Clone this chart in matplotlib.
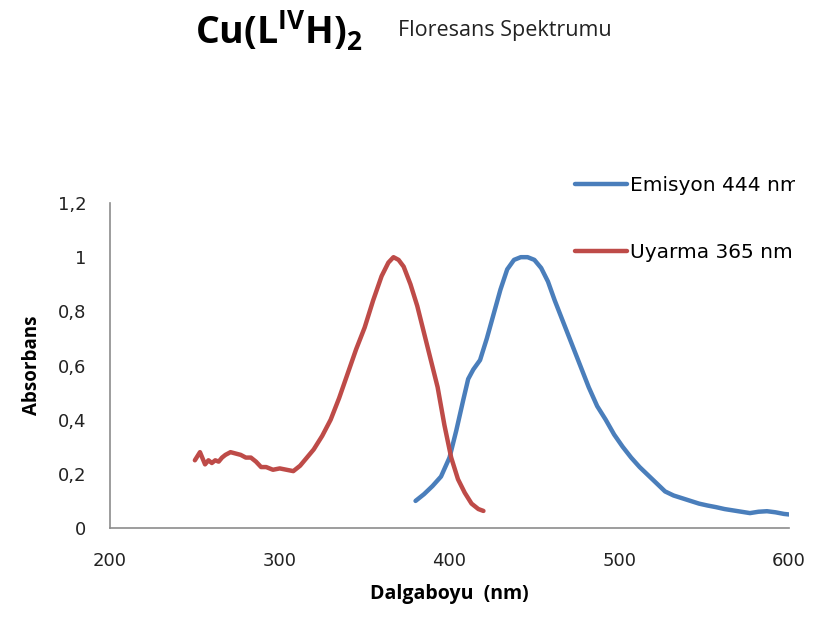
import matplotlib
matplotlib.use("Agg")
import matplotlib.pyplot as plt
from matplotlib.ticker import FuncFormatter
from matplotlib.transforms import Bbox

# Uyarma (excitation) spectrum
uyarma_x = [250, 251, 253, 255, 256, 258, 260, 262, 264, 266, 268, 271, 274, 277, 280,
            283, 286, 289, 292, 296, 300, 304, 308, 312, 316, 320, 325, 330, 335, 340,
            345, 350, 355, 360, 364, 367, 370, 373, 377, 381, 385, 389, 393, 397, 401,
            405, 409, 413, 417, 420]
uyarma_y = [0.25, 0.26, 0.28, 0.25, 0.235, 0.25, 0.24, 0.25, 0.245, 0.26, 0.27, 0.28, 0.275, 0.27, 0.26,
            0.26, 0.245, 0.225, 0.225, 0.215, 0.22, 0.215, 0.21, 0.23, 0.26, 0.29, 0.34, 0.40, 0.48, 0.57,
            0.66, 0.74, 0.84, 0.93, 0.98, 1.0, 0.99, 0.965, 0.90, 0.82, 0.72, 0.62, 0.52, 0.38, 0.26,
            0.18, 0.13, 0.09, 0.07, 0.063]

# Emisyon (emission) spectrum
emisyon_x = [380, 385, 390, 395, 400, 404, 408, 411, 414, 418, 422, 426, 430, 434, 438,
             442, 446, 450, 454, 458, 462, 467, 472, 477, 482, 487, 492, 497, 502, 507,
             512, 517, 522, 527, 532, 537, 542, 547, 552, 557, 562, 567, 572, 577, 582,
             587, 592, 597, 600]
emisyon_y = [0.10, 0.125, 0.155, 0.19, 0.26, 0.36, 0.47, 0.55, 0.585, 0.62, 0.70, 0.79, 0.88, 0.955, 0.99,
             1.0, 1.0, 0.99, 0.96, 0.91, 0.84, 0.76, 0.68, 0.60, 0.52, 0.45, 0.40, 0.345, 0.30, 0.26,
             0.225, 0.195, 0.165, 0.135, 0.12, 0.11, 0.10, 0.09, 0.083, 0.077, 0.07, 0.065, 0.06, 0.055, 0.06,
             0.062, 0.058, 0.052, 0.05]

x_ticks = [200, 300, 400, 500, 600]
y_ticks = [0, 0.2, 0.4, 0.6, 0.8, 1.0, 1.2]

plt.rcParams['mathtext.fontset'] = 'custom'
plt.rcParams['mathtext.rm'] = 'Open Sans'
plt.rcParams['mathtext.bf'] = 'Open Sans:bold'

fig = plt.figure(figsize=(8.27, 6.17), dpi=100)
ax = fig.add_axes([110 / 827, 1 - 528 / 617, (789 - 110) / 827, (528 - 203) / 617])

ax.plot(emisyon_x, emisyon_y, color='#4A7EBB', lw=3.2, label='Emisyon 444 nm',
        solid_capstyle='round')
ax.plot(uyarma_x, uyarma_y, color='#BE4B48', lw=3.2, label='Uyarma 365 nm',
        solid_capstyle='round')

ax.set_xlim(200, 600)
ax.set_ylim(0, 1.2)
ax.set_xticks(x_ticks)
ax.set_yticks(y_ticks)
ax.yaxis.set_major_formatter(FuncFormatter(lambda v, p: f"{v:g}".replace('.', ',')))
ax.tick_params(length=0, labelsize=13, colors='#222222')
ax.tick_params(axis='y', pad=17)
ax.tick_params(axis='x', pad=17)

for side in ['top', 'right']:
    ax.spines[side].set_visible(False)
for side in ['left', 'bottom']:
    ax.spines[side].set_color('#8C8C8C')
    ax.spines[side].set_linewidth(1.2)

ax.set_xlabel('Dalgaboyu  (nm)', family='Open Sans', weight='bold', fontsize=14, labelpad=10)
ax.set_ylabel('Absorbans', family='Open Sans', weight='bold', fontsize=13.5, labelpad=11)

leg = ax.legend(loc='upper left', bbox_to_anchor=(557 / 827, 1 - 158 / 617),
                bbox_transform=fig.transFigure, frameon=False, handlelength=2.6,
                handletextpad=0.1, labelspacing=2.4, fontsize=14.5)
clip = Bbox.from_extents(0, 0, 795, 617)
for t in leg.get_texts():
    t.set_clip_box(clip)
    t.set_clip_on(True)

fig.text(195 / 827, 1 - 45 / 617, r'$\mathbf{Cu(L^{IV}H)_2}$', fontsize=27, va='baseline')
fig.text(398 / 827, 1 - 36 / 617, 'Floresans Spektrumu', family='Open Sans', fontsize=15.5,
         va='baseline', color='#222222')

fig.savefig('out.png', dpi=100)
